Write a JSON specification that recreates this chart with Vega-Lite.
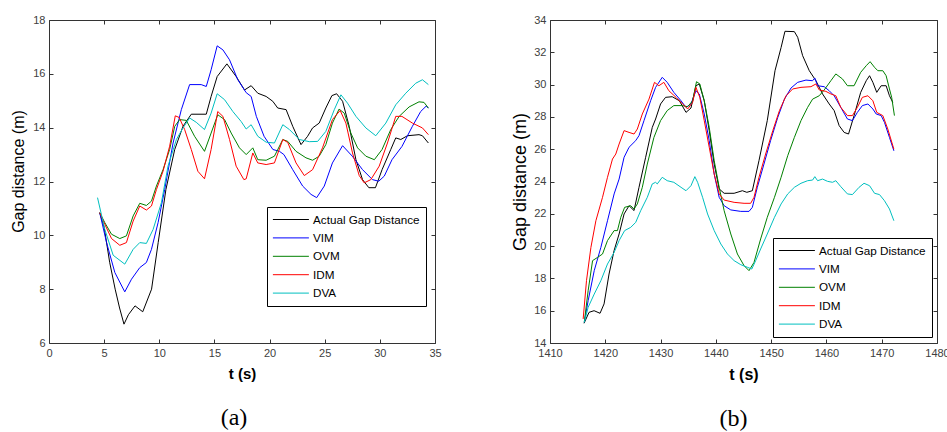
{
  "$schema": "https://vega.github.io/schema/vega-lite/v6.json",
  "background": "white",
  "padding": {"left": 10, "top": 13, "right": 5, "bottom": 0},
  "bounds": "flush",
  "spacing": 115,
  "resolve": {"scale": {"color": "independent"}, "legend": {"color": "independent"}},
  "config": {
    "view": {"stroke": "#333", "strokeWidth": 1},
    "font": "Liberation Sans",
    "axis": {
      "grid": false,
      "domain": false,
      "ticks": true,
      "tickSize": -4,
      "tickColor": "#333",
      "labelFont": "Liberation Sans",
      "labelFontSize": 11,
      "labelColor": "#404040",
      "labelOverlap": false,
      "labelFlush": false,
      "labelPadding": 8,
      "titleFont": "Liberation Sans",
      "titleColor": "black"
    },
    "legend": {
      "orient": "none",
      "title": null,
      "symbolType": "M-1.1,0H4.9",
      "symbolSize": 144,
      "symbolStrokeWidth": 1,
      "labelFont": "Liberation Sans",
      "labelFontSize": 11.7,
      "labelColor": "black",
      "strokeColor": "black",
      "fillColor": "white",
      "padding": 6,
      "rowPadding": 4.4,
      "labelOffset": 27
    },
    "title": {"font": "Liberation Serif", "fontSize": 24, "fontWeight": "normal", "color": "black"}
  },
  "datasets": {
    "a": [
      {"s":"Actual Gap Distance","t":4.6,"v":10.84},{"s":"Actual Gap Distance","t":5.0,"v":10.3},{"s":"Actual Gap Distance","t":5.5,"v":9.0},{"s":"Actual Gap Distance","t":6.0,"v":8.0},{"s":"Actual Gap Distance","t":6.4,"v":7.3},{"s":"Actual Gap Distance","t":6.8,"v":6.7},{"s":"Actual Gap Distance","t":7.2,"v":7.05},{"s":"Actual Gap Distance","t":7.8,"v":7.38},{"s":"Actual Gap Distance","t":8.5,"v":7.16},{"s":"Actual Gap Distance","t":9.3,"v":8.0},{"s":"Actual Gap Distance","t":9.9,"v":9.73},{"s":"Actual Gap Distance","t":10.6,"v":11.7},{"s":"Actual Gap Distance","t":11.4,"v":13.19},{"s":"Actual Gap Distance","t":12.15,"v":14.05},{"s":"Actual Gap Distance","t":12.9,"v":14.5},{"s":"Actual Gap Distance","t":14.26,"v":14.5},{"s":"Actual Gap Distance","t":14.7,"v":15.16},{"s":"Actual Gap Distance","t":15.25,"v":15.9},{"s":"Actual Gap Distance","t":16.13,"v":16.37},{"s":"Actual Gap Distance","t":16.97,"v":15.9},{"s":"Actual Gap Distance","t":17.73,"v":15.4},{"s":"Actual Gap Distance","t":18.33,"v":15.56},{"s":"Actual Gap Distance","t":18.93,"v":15.28},{"s":"Actual Gap Distance","t":19.69,"v":15.16},{"s":"Actual Gap Distance","t":20.29,"v":14.98},{"s":"Actual Gap Distance","t":20.74,"v":14.73},{"s":"Actual Gap Distance","t":21.5,"v":14.67},{"s":"Actual Gap Distance","t":22.1,"v":14.05},{"s":"Actual Gap Distance","t":22.85,"v":13.37},{"s":"Actual Gap Distance","t":23.45,"v":13.68},{"s":"Actual Gap Distance","t":23.9,"v":13.99},{"s":"Actual Gap Distance","t":24.5,"v":14.17},{"s":"Actual Gap Distance","t":25.1,"v":14.73},{"s":"Actual Gap Distance","t":25.65,"v":15.19},{"s":"Actual Gap Distance","t":26.08,"v":15.26},{"s":"Actual Gap Distance","t":26.62,"v":14.98},{"s":"Actual Gap Distance","t":27.22,"v":14.05},{"s":"Actual Gap Distance","t":27.83,"v":12.81},{"s":"Actual Gap Distance","t":28.43,"v":12.07},{"s":"Actual Gap Distance","t":29.0,"v":11.77},{"s":"Actual Gap Distance","t":29.6,"v":11.77},{"s":"Actual Gap Distance","t":30.2,"v":12.44},{"s":"Actual Gap Distance","t":30.99,"v":13.19},{"s":"Actual Gap Distance","t":31.44,"v":13.62},{"s":"Actual Gap Distance","t":31.9,"v":13.56},{"s":"Actual Gap Distance","t":32.5,"v":13.7},{"s":"Actual Gap Distance","t":33.55,"v":13.74},{"s":"Actual Gap Distance","t":33.86,"v":13.7},{"s":"Actual Gap Distance","t":34.4,"v":13.43},
      {"s":"VIM","t":4.6,"v":10.84},{"s":"VIM","t":5.22,"v":9.73},{"s":"VIM","t":5.97,"v":8.62},{"s":"VIM","t":6.87,"v":7.9},{"s":"VIM","t":7.48,"v":8.37},{"s":"VIM","t":8.23,"v":8.8},{"s":"VIM","t":8.83,"v":8.99},{"s":"VIM","t":9.29,"v":9.48},{"s":"VIM","t":9.89,"v":10.47},{"s":"VIM","t":10.49,"v":11.7},{"s":"VIM","t":11.25,"v":13.43},{"s":"VIM","t":12.0,"v":14.67},{"s":"VIM","t":12.75,"v":15.6},{"s":"VIM","t":13.8,"v":15.6},{"s":"VIM","t":14.26,"v":15.53},{"s":"VIM","t":14.7,"v":16.15},{"s":"VIM","t":15.25,"v":17.04},{"s":"VIM","t":15.77,"v":16.89},{"s":"VIM","t":16.37,"v":16.52},{"s":"VIM","t":17.12,"v":15.78},{"s":"VIM","t":17.88,"v":15.3},{"s":"VIM","t":18.33,"v":15.16},{"s":"VIM","t":18.8,"v":14.42},{"s":"VIM","t":19.5,"v":13.68},{"s":"VIM","t":20.3,"v":13.19},{"s":"VIM","t":20.9,"v":13.12},{"s":"VIM","t":21.3,"v":13.0},{"s":"VIM","t":22.1,"v":12.44},{"s":"VIM","t":23.0,"v":11.83},{"s":"VIM","t":23.76,"v":11.52},{"s":"VIM","t":24.27,"v":11.4},{"s":"VIM","t":24.96,"v":11.83},{"s":"VIM","t":25.7,"v":12.69},{"s":"VIM","t":26.62,"v":13.33},{"s":"VIM","t":27.5,"v":12.94},{"s":"VIM","t":28.43,"v":12.44},{"s":"VIM","t":29.33,"v":12.07},{"s":"VIM","t":29.9,"v":12.01},{"s":"VIM","t":30.4,"v":12.2},{"s":"VIM","t":31.1,"v":12.81},{"s":"VIM","t":32.0,"v":13.3},{"s":"VIM","t":32.95,"v":14.05},{"s":"VIM","t":33.7,"v":14.6},{"s":"VIM","t":34.2,"v":14.8},{"s":"VIM","t":34.4,"v":14.73},
      {"s":"OVM","t":4.6,"v":10.84},{"s":"OVM","t":5.06,"v":10.47},{"s":"OVM","t":5.67,"v":10.04},{"s":"OVM","t":6.42,"v":9.88},{"s":"OVM","t":7.02,"v":9.98},{"s":"OVM","t":7.63,"v":10.72},{"s":"OVM","t":8.23,"v":11.19},{"s":"OVM","t":8.83,"v":11.11},{"s":"OVM","t":9.29,"v":11.27},{"s":"OVM","t":9.74,"v":11.83},{"s":"OVM","t":10.34,"v":12.44},{"s":"OVM","t":10.94,"v":13.19},{"s":"OVM","t":11.4,"v":14.05},{"s":"OVM","t":11.85,"v":14.3},{"s":"OVM","t":12.45,"v":14.27},{"s":"OVM","t":13.2,"v":13.68},{"s":"OVM","t":14.1,"v":13.12},{"s":"OVM","t":14.7,"v":13.8},{"s":"OVM","t":15.3,"v":14.48},{"s":"OVM","t":15.92,"v":14.3},{"s":"OVM","t":16.52,"v":13.8},{"s":"OVM","t":17.27,"v":13.25},{"s":"OVM","t":17.88,"v":13.0},{"s":"OVM","t":18.48,"v":13.25},{"s":"OVM","t":18.93,"v":12.81},{"s":"OVM","t":19.69,"v":12.79},{"s":"OVM","t":20.44,"v":12.94},{"s":"OVM","t":21.2,"v":13.56},{"s":"OVM","t":21.65,"v":13.49},{"s":"OVM","t":22.4,"v":13.12},{"s":"OVM","t":23.3,"v":12.88},{"s":"OVM","t":23.9,"v":12.79},{"s":"OVM","t":24.5,"v":12.94},{"s":"OVM","t":25.1,"v":13.37},{"s":"OVM","t":25.7,"v":14.17},{"s":"OVM","t":26.3,"v":14.69},{"s":"OVM","t":26.77,"v":14.54},{"s":"OVM","t":27.37,"v":13.8},{"s":"OVM","t":27.98,"v":13.25},{"s":"OVM","t":28.73,"v":12.94},{"s":"OVM","t":29.5,"v":12.81},{"s":"OVM","t":30.2,"v":13.19},{"s":"OVM","t":30.99,"v":13.93},{"s":"OVM","t":31.75,"v":14.42},{"s":"OVM","t":32.65,"v":14.77},{"s":"OVM","t":33.55,"v":14.96},{"s":"OVM","t":34.0,"v":14.94},{"s":"OVM","t":34.4,"v":14.73},
      {"s":"IDM","t":4.6,"v":10.84},{"s":"IDM","t":5.06,"v":10.41},{"s":"IDM","t":5.67,"v":9.88},{"s":"IDM","t":6.42,"v":9.63},{"s":"IDM","t":7.02,"v":9.73},{"s":"IDM","t":7.63,"v":10.53},{"s":"IDM","t":8.23,"v":11.09},{"s":"IDM","t":8.83,"v":10.94},{"s":"IDM","t":9.29,"v":11.09},{"s":"IDM","t":9.74,"v":11.7},{"s":"IDM","t":10.34,"v":12.38},{"s":"IDM","t":10.94,"v":13.31},{"s":"IDM","t":11.45,"v":14.44},{"s":"IDM","t":11.8,"v":14.38},{"s":"IDM","t":12.3,"v":13.93},{"s":"IDM","t":12.9,"v":13.19},{"s":"IDM","t":13.5,"v":12.38},{"s":"IDM","t":14.1,"v":12.1},{"s":"IDM","t":14.7,"v":13.19},{"s":"IDM","t":15.3,"v":14.6},{"s":"IDM","t":15.77,"v":14.42},{"s":"IDM","t":16.37,"v":13.56},{"s":"IDM","t":16.97,"v":12.57},{"s":"IDM","t":17.67,"v":12.07},{"s":"IDM","t":17.88,"v":12.1},{"s":"IDM","t":18.48,"v":13.06},{"s":"IDM","t":18.93,"v":12.69},{"s":"IDM","t":19.69,"v":12.63},{"s":"IDM","t":20.44,"v":12.69},{"s":"IDM","t":21.2,"v":13.56},{"s":"IDM","t":21.65,"v":13.45},{"s":"IDM","t":22.4,"v":12.69},{"s":"IDM","t":23.15,"v":12.22},{"s":"IDM","t":23.9,"v":12.44},{"s":"IDM","t":24.8,"v":13.25},{"s":"IDM","t":25.7,"v":14.3},{"s":"IDM","t":26.4,"v":14.64},{"s":"IDM","t":26.92,"v":14.17},{"s":"IDM","t":27.52,"v":13.06},{"s":"IDM","t":28.13,"v":12.22},{"s":"IDM","t":28.58,"v":11.95},{"s":"IDM","t":29.18,"v":12.07},{"s":"IDM","t":29.94,"v":12.57},{"s":"IDM","t":30.69,"v":13.43},{"s":"IDM","t":31.44,"v":14.42},{"s":"IDM","t":32.0,"v":14.42},{"s":"IDM","t":32.95,"v":14.17},{"s":"IDM","t":33.86,"v":13.99},{"s":"IDM","t":34.4,"v":13.74},
      {"s":"DVA","t":4.4,"v":11.4},{"s":"DVA","t":5.06,"v":10.22},{"s":"DVA","t":5.82,"v":9.26},{"s":"DVA","t":6.87,"v":8.93},{"s":"DVA","t":7.63,"v":9.48},{"s":"DVA","t":8.23,"v":9.73},{"s":"DVA","t":8.83,"v":9.7},{"s":"DVA","t":9.44,"v":10.22},{"s":"DVA","t":10.19,"v":11.21},{"s":"DVA","t":10.79,"v":12.57},{"s":"DVA","t":11.55,"v":13.56},{"s":"DVA","t":12.15,"v":13.99},{"s":"DVA","t":12.75,"v":14.36},{"s":"DVA","t":13.35,"v":14.2},{"s":"DVA","t":14.1,"v":13.93},{"s":"DVA","t":14.7,"v":14.54},{"s":"DVA","t":15.25,"v":15.26},{"s":"DVA","t":15.92,"v":15.04},{"s":"DVA","t":16.67,"v":14.6},{"s":"DVA","t":17.42,"v":14.23},{"s":"DVA","t":17.88,"v":13.95},{"s":"DVA","t":18.33,"v":14.11},{"s":"DVA","t":18.93,"v":13.68},{"s":"DVA","t":19.69,"v":13.46},{"s":"DVA","t":20.44,"v":13.43},{"s":"DVA","t":21.2,"v":14.11},{"s":"DVA","t":21.8,"v":13.93},{"s":"DVA","t":22.7,"v":13.56},{"s":"DVA","t":23.6,"v":13.48},{"s":"DVA","t":24.36,"v":13.49},{"s":"DVA","t":25.1,"v":13.86},{"s":"DVA","t":25.87,"v":14.67},{"s":"DVA","t":26.47,"v":15.22},{"s":"DVA","t":27.07,"v":14.91},{"s":"DVA","t":27.83,"v":14.42},{"s":"DVA","t":28.73,"v":13.99},{"s":"DVA","t":29.63,"v":13.7},{"s":"DVA","t":30.54,"v":14.17},{"s":"DVA","t":31.44,"v":14.85},{"s":"DVA","t":32.35,"v":15.28},{"s":"DVA","t":33.25,"v":15.65},{"s":"DVA","t":33.86,"v":15.78},{"s":"DVA","t":34.4,"v":15.6}
    ],
    "b": [
      {"s":"Actual Gap Distance","t":1416.16,"v":15.22},{"s":"Actual Gap Distance","t":1417.06,"v":15.9},{"s":"Actual Gap Distance","t":1417.97,"v":16.0},{"s":"Actual Gap Distance","t":1419.05,"v":15.84},{"s":"Actual Gap Distance","t":1419.78,"v":16.42},{"s":"Actual Gap Distance","t":1420.68,"v":18.27},{"s":"Actual Gap Distance","t":1421.59,"v":19.72},{"s":"Actual Gap Distance","t":1422.5,"v":20.75},{"s":"Actual Gap Distance","t":1423.4,"v":21.99},{"s":"Actual Gap Distance","t":1424.3,"v":22.5},{"s":"Actual Gap Distance","t":1425.2,"v":22.2},{"s":"Actual Gap Distance","t":1426.1,"v":23.64},{"s":"Actual Gap Distance","t":1427.3,"v":25.5},{"s":"Actual Gap Distance","t":1428.5,"v":27.35},{"s":"Actual Gap Distance","t":1429.1,"v":27.87},{"s":"Actual Gap Distance","t":1430.0,"v":28.8},{"s":"Actual Gap Distance","t":1430.9,"v":29.21},{"s":"Actual Gap Distance","t":1432.1,"v":29.25},{"s":"Actual Gap Distance","t":1433.4,"v":29.0},{"s":"Actual Gap Distance","t":1434.6,"v":28.28},{"s":"Actual Gap Distance","t":1435.5,"v":28.55},{"s":"Actual Gap Distance","t":1436.4,"v":29.93},{"s":"Actual Gap Distance","t":1437.0,"v":30.04},{"s":"Actual Gap Distance","t":1437.9,"v":29.0},{"s":"Actual Gap Distance","t":1438.8,"v":27.15},{"s":"Actual Gap Distance","t":1439.7,"v":25.08},{"s":"Actual Gap Distance","t":1440.6,"v":23.54},{"s":"Actual Gap Distance","t":1441.5,"v":23.27},{"s":"Actual Gap Distance","t":1443.3,"v":23.27},{"s":"Actual Gap Distance","t":1444.8,"v":23.43},{"s":"Actual Gap Distance","t":1445.6,"v":23.33},{"s":"Actual Gap Distance","t":1446.6,"v":23.43},{"s":"Actual Gap Distance","t":1447.8,"v":25.29},{"s":"Actual Gap Distance","t":1449.3,"v":27.77},{"s":"Actual Gap Distance","t":1450.7,"v":30.86},{"s":"Actual Gap Distance","t":1451.8,"v":32.3},{"s":"Actual Gap Distance","t":1452.5,"v":33.3},{"s":"Actual Gap Distance","t":1454.2,"v":33.28},{"s":"Actual Gap Distance","t":1454.8,"v":32.93},{"s":"Actual Gap Distance","t":1455.7,"v":31.79},{"s":"Actual Gap Distance","t":1456.9,"v":30.86},{"s":"Actual Gap Distance","t":1458.1,"v":30.24},{"s":"Actual Gap Distance","t":1459.3,"v":29.42},{"s":"Actual Gap Distance","t":1460.5,"v":28.8},{"s":"Actual Gap Distance","t":1461.4,"v":28.39},{"s":"Actual Gap Distance","t":1462.3,"v":27.46},{"s":"Actual Gap Distance","t":1463.2,"v":27.04},{"s":"Actual Gap Distance","t":1464.0,"v":26.94},{"s":"Actual Gap Distance","t":1465.0,"v":28.08},{"s":"Actual Gap Distance","t":1466.2,"v":29.52},{"s":"Actual Gap Distance","t":1467.2,"v":30.24},{"s":"Actual Gap Distance","t":1467.8,"v":30.55},{"s":"Actual Gap Distance","t":1468.4,"v":30.14},{"s":"Actual Gap Distance","t":1469.1,"v":29.52},{"s":"Actual Gap Distance","t":1469.9,"v":29.93},{"s":"Actual Gap Distance","t":1470.8,"v":29.93},{"s":"Actual Gap Distance","t":1471.4,"v":29.31},{"s":"Actual Gap Distance","t":1472.0,"v":28.9},
      {"s":"VIM","t":1416.2,"v":15.28},{"s":"VIM","t":1416.9,"v":16.62},{"s":"VIM","t":1418.0,"v":18.48},{"s":"VIM","t":1419.2,"v":19.92},{"s":"VIM","t":1420.4,"v":21.57},{"s":"VIM","t":1421.6,"v":23.23},{"s":"VIM","t":1422.5,"v":24.15},{"s":"VIM","t":1423.4,"v":25.5},{"s":"VIM","t":1424.3,"v":26.12},{"s":"VIM","t":1425.5,"v":26.53},{"s":"VIM","t":1426.1,"v":26.84},{"s":"VIM","t":1427.0,"v":27.77},{"s":"VIM","t":1428.2,"v":29.0},{"s":"VIM","t":1429.1,"v":29.83},{"s":"VIM","t":1430.3,"v":30.45},{"s":"VIM","t":1431.2,"v":30.14},{"s":"VIM","t":1432.4,"v":29.52},{"s":"VIM","t":1433.7,"v":29.0},{"s":"VIM","t":1434.6,"v":28.59},{"s":"VIM","t":1435.5,"v":28.8},{"s":"VIM","t":1436.4,"v":29.62},{"s":"VIM","t":1437.0,"v":29.42},{"s":"VIM","t":1437.9,"v":28.18},{"s":"VIM","t":1438.8,"v":26.53},{"s":"VIM","t":1439.7,"v":24.46},{"s":"VIM","t":1440.6,"v":23.02},{"s":"VIM","t":1441.5,"v":22.5},{"s":"VIM","t":1442.7,"v":22.24},{"s":"VIM","t":1444.5,"v":22.15},{"s":"VIM","t":1446.0,"v":22.15},{"s":"VIM","t":1446.6,"v":22.4},{"s":"VIM","t":1447.5,"v":23.64},{"s":"VIM","t":1448.7,"v":25.08},{"s":"VIM","t":1449.9,"v":26.53},{"s":"VIM","t":1451.2,"v":27.97},{"s":"VIM","t":1452.4,"v":29.1},{"s":"VIM","t":1453.6,"v":29.79},{"s":"VIM","t":1454.8,"v":30.14},{"s":"VIM","t":1456.3,"v":30.28},{"s":"VIM","t":1457.5,"v":30.24},{"s":"VIM","t":1457.9,"v":30.41},{"s":"VIM","t":1458.4,"v":29.93},{"s":"VIM","t":1459.6,"v":29.87},{"s":"VIM","t":1460.5,"v":29.62},{"s":"VIM","t":1461.4,"v":29.31},{"s":"VIM","t":1462.6,"v":28.59},{"s":"VIM","t":1463.8,"v":27.87},{"s":"VIM","t":1464.7,"v":27.77},{"s":"VIM","t":1465.6,"v":28.28},{"s":"VIM","t":1466.5,"v":28.7},{"s":"VIM","t":1467.5,"v":28.8},{"s":"VIM","t":1468.4,"v":28.49},{"s":"VIM","t":1469.0,"v":28.18},{"s":"VIM","t":1469.9,"v":28.08},{"s":"VIM","t":1470.5,"v":27.66},{"s":"VIM","t":1471.4,"v":26.73},{"s":"VIM","t":1472.2,"v":25.9},
      {"s":"OVM","t":1416.2,"v":15.28},{"s":"OVM","t":1416.9,"v":17.24},{"s":"OVM","t":1417.7,"v":19.1},{"s":"OVM","t":1418.6,"v":19.3},{"s":"OVM","t":1419.5,"v":19.51},{"s":"OVM","t":1420.4,"v":20.34},{"s":"OVM","t":1421.6,"v":20.96},{"s":"OVM","t":1422.2,"v":20.96},{"s":"OVM","t":1422.8,"v":21.78},{"s":"OVM","t":1423.5,"v":22.4},{"s":"OVM","t":1424.6,"v":22.5},{"s":"OVM","t":1425.2,"v":22.3},{"s":"OVM","t":1425.8,"v":22.61},{"s":"OVM","t":1426.7,"v":23.64},{"s":"OVM","t":1427.6,"v":25.08},{"s":"OVM","t":1428.8,"v":26.73},{"s":"OVM","t":1430.0,"v":27.77},{"s":"OVM","t":1431.2,"v":28.39},{"s":"OVM","t":1432.4,"v":28.7},{"s":"OVM","t":1434.0,"v":28.7},{"s":"OVM","t":1434.9,"v":28.63},{"s":"OVM","t":1435.8,"v":29.0},{"s":"OVM","t":1436.5,"v":30.18},{"s":"OVM","t":1437.1,"v":30.04},{"s":"OVM","t":1437.9,"v":29.0},{"s":"OVM","t":1438.8,"v":27.35},{"s":"OVM","t":1439.7,"v":25.29},{"s":"OVM","t":1440.6,"v":23.64},{"s":"OVM","t":1441.5,"v":22.19},{"s":"OVM","t":1442.7,"v":20.75},{"s":"OVM","t":1443.9,"v":19.51},{"s":"OVM","t":1445.1,"v":18.79},{"s":"OVM","t":1446.0,"v":18.48},{"s":"OVM","t":1446.9,"v":18.99},{"s":"OVM","t":1448.1,"v":20.44},{"s":"OVM","t":1449.3,"v":21.78},{"s":"OVM","t":1450.6,"v":23.02},{"s":"OVM","t":1451.8,"v":24.26},{"s":"OVM","t":1453.0,"v":25.6},{"s":"OVM","t":1454.2,"v":26.73},{"s":"OVM","t":1455.4,"v":27.77},{"s":"OVM","t":1456.6,"v":28.59},{"s":"OVM","t":1457.5,"v":29.1},{"s":"OVM","t":1458.7,"v":29.31},{"s":"OVM","t":1459.6,"v":29.67},{"s":"OVM","t":1460.8,"v":30.24},{"s":"OVM","t":1461.7,"v":30.66},{"s":"OVM","t":1462.9,"v":30.35},{"s":"OVM","t":1463.8,"v":29.93},{"s":"OVM","t":1465.0,"v":29.93},{"s":"OVM","t":1466.2,"v":30.76},{"s":"OVM","t":1467.2,"v":31.17},{"s":"OVM","t":1467.9,"v":31.42},{"s":"OVM","t":1468.7,"v":31.07},{"s":"OVM","t":1469.3,"v":30.86},{"s":"OVM","t":1470.2,"v":30.86},{"s":"OVM","t":1470.8,"v":30.55},{"s":"OVM","t":1471.4,"v":29.73},{"s":"OVM","t":1471.8,"v":29.21},{"s":"OVM","t":1472.3,"v":28.08},
      {"s":"IDM","t":1416.0,"v":15.49},{"s":"IDM","t":1416.6,"v":17.86},{"s":"IDM","t":1417.4,"v":19.92},{"s":"IDM","t":1418.3,"v":21.57},{"s":"IDM","t":1419.5,"v":23.02},{"s":"IDM","t":1420.4,"v":24.26},{"s":"IDM","t":1421.3,"v":25.39},{"s":"IDM","t":1421.9,"v":25.7},{"s":"IDM","t":1422.5,"v":26.32},{"s":"IDM","t":1423.4,"v":27.15},{"s":"IDM","t":1424.3,"v":27.04},{"s":"IDM","t":1425.2,"v":26.94},{"s":"IDM","t":1425.8,"v":27.25},{"s":"IDM","t":1426.7,"v":28.18},{"s":"IDM","t":1427.9,"v":29.1},{"s":"IDM","t":1428.9,"v":30.14},{"s":"IDM","t":1429.7,"v":29.93},{"s":"IDM","t":1430.6,"v":30.14},{"s":"IDM","t":1431.5,"v":29.62},{"s":"IDM","t":1432.8,"v":29.21},{"s":"IDM","t":1434.0,"v":28.8},{"s":"IDM","t":1434.9,"v":28.49},{"s":"IDM","t":1435.8,"v":28.9},{"s":"IDM","t":1436.4,"v":29.83},{"s":"IDM","t":1437.1,"v":29.21},{"s":"IDM","t":1437.9,"v":27.77},{"s":"IDM","t":1438.8,"v":26.12},{"s":"IDM","t":1439.7,"v":24.46},{"s":"IDM","t":1440.6,"v":23.23},{"s":"IDM","t":1441.5,"v":22.85},{"s":"IDM","t":1443.3,"v":22.71},{"s":"IDM","t":1445.1,"v":22.65},{"s":"IDM","t":1446.3,"v":22.65},{"s":"IDM","t":1446.9,"v":23.02},{"s":"IDM","t":1447.8,"v":24.26},{"s":"IDM","t":1449.0,"v":25.7},{"s":"IDM","t":1450.3,"v":27.15},{"s":"IDM","t":1451.5,"v":28.39},{"s":"IDM","t":1452.7,"v":29.31},{"s":"IDM","t":1453.9,"v":29.73},{"s":"IDM","t":1455.4,"v":29.83},{"s":"IDM","t":1457.2,"v":29.87},{"s":"IDM","t":1458.1,"v":30.04},{"s":"IDM","t":1458.7,"v":29.67},{"s":"IDM","t":1459.9,"v":29.58},{"s":"IDM","t":1460.8,"v":29.42},{"s":"IDM","t":1461.7,"v":29.31},{"s":"IDM","t":1462.6,"v":28.59},{"s":"IDM","t":1463.8,"v":28.08},{"s":"IDM","t":1464.7,"v":28.08},{"s":"IDM","t":1465.6,"v":28.59},{"s":"IDM","t":1466.5,"v":29.21},{"s":"IDM","t":1467.5,"v":29.31},{"s":"IDM","t":1468.4,"v":29.0},{"s":"IDM","t":1469.1,"v":28.28},{"s":"IDM","t":1470.2,"v":28.08},{"s":"IDM","t":1471.1,"v":27.25},{"s":"IDM","t":1472.2,"v":26.0},
      {"s":"DVA","t":1416.2,"v":15.28},{"s":"DVA","t":1416.9,"v":16.21},{"s":"DVA","t":1418.0,"v":17.03},{"s":"DVA","t":1419.2,"v":17.86},{"s":"DVA","t":1420.4,"v":18.89},{"s":"DVA","t":1421.6,"v":19.61},{"s":"DVA","t":1422.5,"v":20.34},{"s":"DVA","t":1423.5,"v":20.96},{"s":"DVA","t":1424.6,"v":21.16},{"s":"DVA","t":1425.5,"v":21.47},{"s":"DVA","t":1426.4,"v":22.19},{"s":"DVA","t":1427.6,"v":23.02},{"s":"DVA","t":1428.5,"v":23.85},{"s":"DVA","t":1429.1,"v":23.95},{"s":"DVA","t":1429.4,"v":23.85},{"s":"DVA","t":1430.3,"v":24.26},{"s":"DVA","t":1431.2,"v":24.05},{"s":"DVA","t":1432.4,"v":23.95},{"s":"DVA","t":1433.7,"v":23.64},{"s":"DVA","t":1434.6,"v":23.43},{"s":"DVA","t":1435.5,"v":23.74},{"s":"DVA","t":1436.2,"v":24.3},{"s":"DVA","t":1436.7,"v":23.95},{"s":"DVA","t":1437.6,"v":23.02},{"s":"DVA","t":1438.5,"v":21.99},{"s":"DVA","t":1439.7,"v":20.96},{"s":"DVA","t":1440.9,"v":20.13},{"s":"DVA","t":1442.1,"v":19.51},{"s":"DVA","t":1443.3,"v":19.1},{"s":"DVA","t":1444.5,"v":18.85},{"s":"DVA","t":1445.7,"v":18.69},{"s":"DVA","t":1446.5,"v":18.58},{"s":"DVA","t":1447.2,"v":19.1},{"s":"DVA","t":1448.1,"v":19.82},{"s":"DVA","t":1449.3,"v":20.75},{"s":"DVA","t":1450.6,"v":21.78},{"s":"DVA","t":1451.8,"v":22.61},{"s":"DVA","t":1453.0,"v":23.23},{"s":"DVA","t":1454.2,"v":23.64},{"s":"DVA","t":1455.4,"v":23.89},{"s":"DVA","t":1456.6,"v":24.05},{"s":"DVA","t":1457.5,"v":24.09},{"s":"DVA","t":1457.9,"v":24.3},{"s":"DVA","t":1458.4,"v":24.05},{"s":"DVA","t":1459.3,"v":24.15},{"s":"DVA","t":1460.2,"v":24.01},{"s":"DVA","t":1461.1,"v":23.95},{"s":"DVA","t":1461.7,"v":24.05},{"s":"DVA","t":1462.6,"v":23.68},{"s":"DVA","t":1463.8,"v":23.23},{"s":"DVA","t":1464.7,"v":23.19},{"s":"DVA","t":1465.9,"v":23.64},{"s":"DVA","t":1466.8,"v":23.89},{"s":"DVA","t":1467.8,"v":23.74},{"s":"DVA","t":1468.7,"v":23.27},{"s":"DVA","t":1469.6,"v":23.19},{"s":"DVA","t":1470.5,"v":22.81},{"s":"DVA","t":1471.4,"v":22.3},{"s":"DVA","t":1472.2,"v":21.57}
    ]
  },
  "hconcat": [
    {
      "width": 386, "height": 323,
      "data": {"name": "a"},
      "title": {"text": "(a)", "orient": "bottom", "dx": -8, "offset": 25},
      "layer": [
        {
          "mark": {"type": "line", "strokeWidth": 1},
          "encoding": {
            "x": {"field": "t", "type": "quantitative", "scale": {"domain": [0, 35], "nice": false, "zero": false},
                  "axis": {"values": [0, 5, 10, 15, 20, 25, 30, 35], "title": "t (s)", "titleFontSize": 15, "titleFontWeight": "bold", "titlePadding": 8}},
            "y": {"field": "v", "type": "quantitative", "scale": {"domain": [6, 18], "nice": false, "zero": false},
                  "axis": {"values": [6, 8, 10, 12, 14, 16, 18], "title": "Gap distance (m)", "titleFontSize": 16, "titleFontWeight": "normal", "titlePadding": 6, "titleY": 151}},
            "color": {"field": "s", "type": "nominal",
                      "scale": {"domain": ["Actual Gap Distance", "VIM", "OVM", "IDM", "DVA"], "range": ["#000000", "#0000ff", "#008000", "#ff0000", "#00bfbf"]},
                      "legend": {"legendX": 218, "legendY": 187}}
          }
        },
        {
          "mark": {"type": "line", "strokeOpacity": 0},
          "encoding": {
            "x": {"field": "t", "type": "quantitative", "axis": {"orient": "top", "values": [0, 5, 10, 15, 20, 25, 30, 35], "labels": false, "title": null}},
            "y": {"field": "v", "type": "quantitative", "axis": {"orient": "right", "values": [6, 8, 10, 12, 14, 16, 18], "labels": false, "title": null}},
            "detail": {"field": "s"}
          }
        }
      ],
      "resolve": {"axis": {"x": "independent", "y": "independent"}}
    },
    {
      "width": 387, "height": 323,
      "data": {"name": "b"},
      "title": {"text": "(b)", "orient": "bottom", "dx": -10, "offset": 25},
      "layer": [
        {
          "mark": {"type": "line", "strokeWidth": 1},
          "encoding": {
            "x": {"field": "t", "type": "quantitative", "scale": {"domain": [1410, 1480], "nice": false, "zero": false},
                  "axis": {"values": [1410, 1420, 1430, 1440, 1450, 1460, 1470, 1480], "format": "d", "title": "t (s)", "titleFontSize": 16, "titleFontWeight": "bold", "titlePadding": 8}},
            "y": {"field": "v", "type": "quantitative", "scale": {"domain": [14, 34], "nice": false, "zero": false},
                  "axis": {"values": [14, 16, 18, 20, 22, 24, 26, 28, 30, 32, 34], "title": "Gap distance (m)", "titleFontSize": 18, "titleFontWeight": "normal", "titlePadding": 4}},
            "color": {"field": "s", "type": "nominal",
                      "scale": {"domain": ["Actual Gap Distance", "VIM", "OVM", "IDM", "DVA"], "range": ["#000000", "#0000ff", "#008000", "#ff0000", "#00bfbf"]},
                      "legend": {"legendX": 223, "legendY": 218}}
          }
        },
        {
          "mark": {"type": "line", "strokeOpacity": 0},
          "encoding": {
            "x": {"field": "t", "type": "quantitative", "axis": {"orient": "top", "values": [1410, 1420, 1430, 1440, 1450, 1460, 1470, 1480], "labels": false, "title": null}},
            "y": {"field": "v", "type": "quantitative", "axis": {"orient": "right", "values": [14, 16, 18, 20, 22, 24, 26, 28, 30, 32, 34], "labels": false, "title": null}},
            "detail": {"field": "s"}
          }
        }
      ],
      "resolve": {"axis": {"x": "independent", "y": "independent"}}
    }
  ]
}
